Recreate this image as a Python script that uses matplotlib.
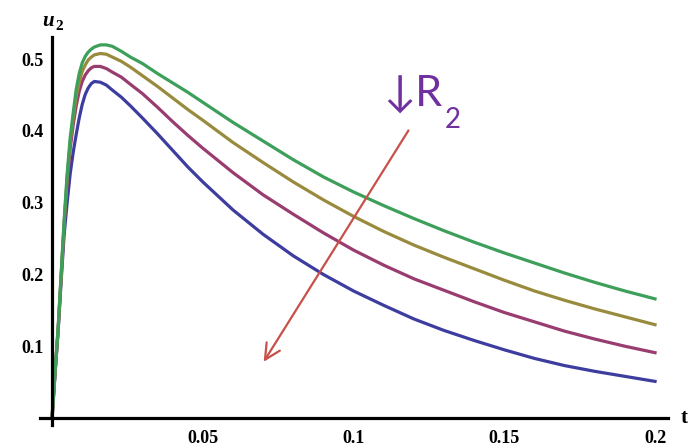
import matplotlib.pyplot as plt

# t values
t = [0, 0.001, 0.002, 0.003, 0.004, 0.005, 0.006, 0.007, 0.008, 0.009,
     0.010, 0.011, 0.012, 0.013, 0.014, 0.016, 0.018, 0.020, 0.023, 0.026,
     0.030, 0.035, 0.040, 0.045, 0.050, 0.060, 0.070, 0.080, 0.090, 0.100,
     0.110, 0.120, 0.130, 0.140, 0.150, 0.160, 0.170, 0.180, 0.190, 0.200]

# u2 for the four R2 values (largest R2 -> green on top)
u_green = [0, 0.065, 0.125, 0.200, 0.275, 0.340, 0.390, 0.425, 0.458, 0.480,
           0.495, 0.504, 0.510, 0.514, 0.517, 0.520, 0.520, 0.518, 0.511, 0.503,
           0.494, 0.480, 0.467, 0.454, 0.440, 0.412, 0.386, 0.360, 0.336, 0.315,
           0.296, 0.278, 0.261, 0.245, 0.230, 0.216, 0.202, 0.189, 0.177, 0.166]
u_yellow = [0, 0.064, 0.124, 0.198, 0.272, 0.335, 0.383, 0.418, 0.448, 0.468,
            0.483, 0.492, 0.499, 0.503, 0.506, 0.508, 0.507, 0.503, 0.497, 0.489,
            0.477, 0.462, 0.446, 0.430, 0.415, 0.384, 0.356, 0.329, 0.304, 0.281,
            0.260, 0.241, 0.224, 0.208, 0.192, 0.177, 0.164, 0.152, 0.141, 0.130]
u_magenta = [0, 0.063, 0.122, 0.195, 0.268, 0.328, 0.375, 0.408, 0.435, 0.455,
             0.469, 0.478, 0.484, 0.488, 0.490, 0.490, 0.487, 0.482, 0.475, 0.465,
             0.452, 0.433, 0.413, 0.394, 0.376, 0.342, 0.311, 0.284, 0.258, 0.234,
             0.213, 0.194, 0.178, 0.162, 0.147, 0.134, 0.121, 0.110, 0.100, 0.091]
u_blue = [0, 0.062, 0.120, 0.190, 0.255, 0.300, 0.340, 0.370, 0.395, 0.418,
          0.437, 0.451, 0.460, 0.466, 0.469, 0.468, 0.464, 0.457, 0.447, 0.435,
          0.418, 0.396, 0.373, 0.350, 0.329, 0.290, 0.256, 0.226, 0.200, 0.177,
          0.157, 0.138, 0.122, 0.108, 0.095, 0.083, 0.073, 0.065, 0.058, 0.051]

series = [(u_blue, '#3D3DA0'), (u_magenta, '#993D71'),
          (u_yellow, '#998B3D'), (u_green, '#3D9F5A')]

xticks = [0.05, 0.1, 0.15, 0.2]
yticks = [0.1, 0.2, 0.3, 0.4, 0.5]

fig = plt.figure(figsize=(6.94, 4.47), dpi=100)
ax = fig.add_axes([40/694, 22/447, 628/694, 388/447])

for u, c in series:
    ax.plot(t, u, color=c, lw=2.3, solid_joinstyle='round')

ax.set_xlim(-0.004, 0.2043)
ax.set_ylim(-0.0098, 0.531)

for s in ['top', 'right']:
    ax.spines[s].set_visible(False)
ax.spines['left'].set_position(('data', 0))
ax.spines['bottom'].set_position(('data', 0))
for s in ['left', 'bottom']:
    ax.spines[s].set_linewidth(2.3)

ax.set_xticks(xticks)
ax.set_xticklabels(['0.05', '0.1', '0.15', '0.2'])
ax.set_yticks(yticks)
ax.set_yticklabels(['0.1', '0.2', '0.3', '0.4', '0.5'])
ax.tick_params(length=0, labelsize=13)
ax.tick_params(axis='x', pad=9)
ax.tick_params(axis='y', pad=6)
for lab in ax.get_xticklabels() + ax.get_yticklabels():
    lab.set_fontfamily('Liberation Serif')
    lab.set_fontweight('bold')

# axis labels
ax.text(-0.0033, 0.553, 'u', fontsize=15, fontfamily='Liberation Serif',
        fontweight='bold', fontstyle='italic', va='center', clip_on=False)
ax.text(0.0012, 0.546, '2', fontsize=11, fontfamily='Liberation Serif',
        fontweight='bold', va='center', clip_on=False)
ax.text(0.2085, 0.0, 't', fontsize=15, fontfamily='Liberation Serif',
        fontweight='bold', va='center', clip_on=False)

# arrow showing decreasing R2
ax.annotate('', xy=(0.0697, 0.075), xytext=(0.1187, 0.404),
            arrowprops=dict(arrowstyle='->', color='#C8504A', lw=1.6,
                            mutation_scale=28))
ax.text(0.1097, 0.436, '↓R', fontsize=31, color='#7030A0',
        family=['Lato', 'DejaVu Sans'], va='baseline')
ax.text(0.1302, 0.404, '2', fontsize=20, color='#7030A0',
        family=['Lato', 'DejaVu Sans'], va='baseline')

fig.savefig('out.png', dpi=100)
